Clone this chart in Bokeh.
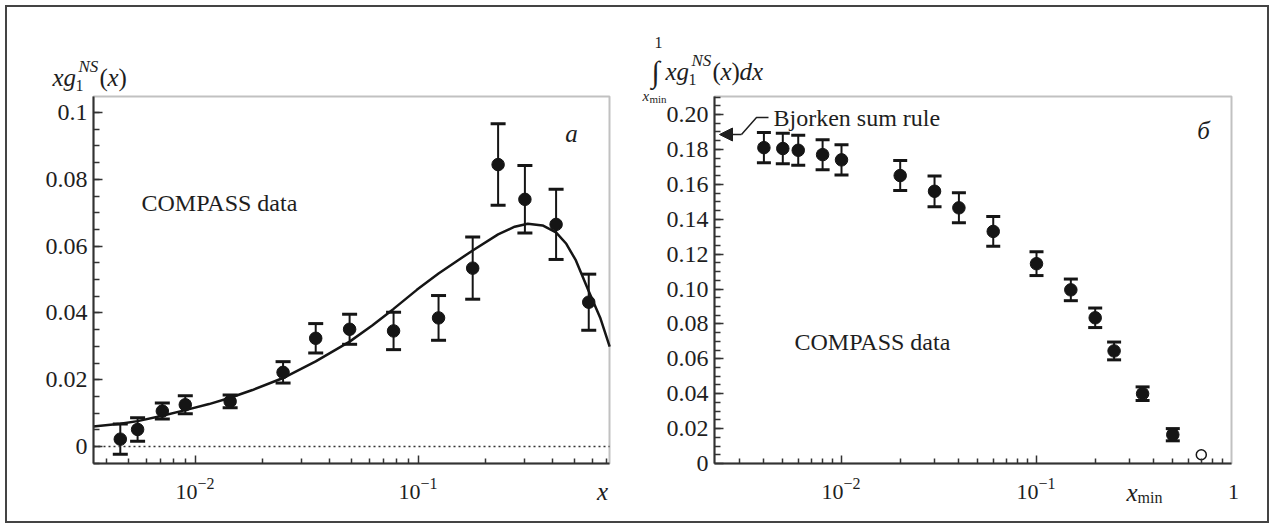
import math
from bokeh.plotting import figure
from bokeh.layouts import row
from bokeh.models import (ColumnDataSource, Whisker, TeeHead, Label, Range1d,
                          FixedTicker, Arrow, NormalHead, BoxAnnotation)
from bokeh.embed import file_html
from bokeh.resources import INLINE

# ---------------- data: panel a ----------------
x_a = [0.0046, 0.0055, 0.0071, 0.0090, 0.0143, 0.0247, 0.0346, 0.0491,
       0.0773, 0.123, 0.175, 0.2275, 0.300, 0.414, 0.58]
y_a = [0.0022, 0.0051, 0.0106, 0.0125, 0.0135, 0.0222, 0.0324, 0.0351,
       0.0346, 0.0385, 0.0534, 0.0844, 0.0740, 0.0665, 0.0432]
err_a = [0.0045, 0.0035, 0.0024, 0.0027, 0.0019, 0.0032, 0.0044, 0.0045,
         0.0056, 0.0067, 0.0093, 0.0122, 0.0101, 0.0105, 0.0084]
curve_x = [0.00348, 0.0046, 0.0055, 0.0071, 0.0090, 0.0115, 0.0143, 0.0180,
           0.0247, 0.0346, 0.0491, 0.0620, 0.0773, 0.0983, 0.123, 0.150,
           0.175, 0.2275, 0.27, 0.309, 0.36, 0.4136, 0.46, 0.508, 0.58,
           0.655, 0.72]
curve_y = [0.0060, 0.0068, 0.0076, 0.0092, 0.0109, 0.0127, 0.0146, 0.0169,
           0.0205, 0.0255, 0.0314, 0.0362, 0.0412, 0.0469, 0.0518, 0.0557,
           0.0587, 0.0635, 0.0658, 0.0667, 0.0662, 0.0641, 0.0607, 0.0557,
           0.0465, 0.0383, 0.0299]
yticks_a = [0, 0.02, 0.04, 0.06, 0.08, 0.1]
ylabels_a = ["0", "0.02", "0.04", "0.06", "0.08", "0.1"]
xticks_a = [0.01, 0.1]
xexp_a = ["\u22122", "\u22121"]

# ---------------- data: panel b ----------------
x_b = [0.004, 0.005, 0.006, 0.008, 0.01, 0.02, 0.03, 0.04, 0.06, 0.1,
       0.15, 0.2, 0.25, 0.35, 0.5]
y_b = [0.181, 0.1805, 0.1795, 0.177, 0.174, 0.165, 0.156, 0.1465, 0.133,
       0.1145, 0.0995, 0.0835, 0.0645, 0.040, 0.0165]
err_b = [0.0087, 0.0087, 0.0086, 0.0086, 0.0086, 0.0086, 0.0088, 0.0086,
         0.0085, 0.0068, 0.0062, 0.0056, 0.0051, 0.0039, 0.0035]
x_open = [0.7]
y_open = [0.005]
yticks_b = [0, 0.02, 0.04, 0.06, 0.08, 0.10, 0.12, 0.14, 0.16, 0.18, 0.20]
ylabels_b = ["0", "0.02", "0.04", "0.06", "0.08", "0.10", "0.12", "0.14",
             "0.16", "0.18", "0.20"]
xticks_b = [0.01, 0.1]
xexp_b = ["\u22122", "\u22121"]

SERIF = "Liberation Serif"
INK = "#151515"
FRAME = "#333333"
TXT = "#1e1e1e"

# page layout (pixels)
OX, OY = 7, 7          # top-left of the figures on the page
H = 514
W1, W2 = 623, 637
BOX_A = (93, 609, 96, 463)     # left, right, top, bottom of plot box a
BOX_B = (714, 1231, 96, 463)   # same for plot box b
BASE_FIX = 6                   # alphabetic-baseline correction (px)


# page-pixel -> data helpers (axis calibration of each panel)
def conv_a(px, py):
    return 10 ** (-2 + (px - 195) / 223.0), (446 - py) / 3340.0


def conv_b(px, py):
    return 10 ** (-2 + (px - 841) / 195.0), (463 - py) / 1745.0


def make_fig(conv, x0, width, box, xt, ymajor, ylabels):
    xr = Range1d(conv(x0, 0)[0], conv(x0 + width, 0)[0])
    yr = Range1d(conv(0, OY + H)[1], conv(0, OY)[1])
    p = figure(width=width, height=H, x_axis_type="log", x_range=xr,
               y_range=yr, output_backend="svg", toolbar_location=None,
               min_border=0, min_border_left=0, min_border_right=0,
               min_border_top=0, min_border_bottom=0)
    p.grid.visible = False
    p.outline_line_color = None
    p.background_fill_color = "white"
    p.border_fill_color = "white"
    bl, bb = conv(box[0], box[3])
    br, bt = conv(box[1], box[2])
    # visible plot box
    p.add_layout(BoxAnnotation(left=bl, right=br, bottom=bb, top=bt,
                               fill_color=None, line_color=FRAME,
                               line_width=2))
    minors_x = [m * 10 ** e for e in (-3, -2, -1, 0) for m in range(2, 10)
                if bl < m * 10 ** e < br * 0.995]
    p.xaxis.ticker = FixedTicker(ticks=xt, minor_ticks=minors_x)
    minors_y = [round(i * 0.005, 4) for i in range(-1, 44)
                if bb < i * 0.005 < bt]
    p.yaxis.ticker = FixedTicker(ticks=ymajor, minor_ticks=minors_y)
    p.yaxis.major_label_overrides = {t: l for t, l in zip(ymajor, ylabels)}
    p.xaxis.fixed_location = bb
    p.xaxis.bounds = (bl, br)
    p.yaxis.fixed_location = bl
    p.yaxis.bounds = (bb, bt)
    for axs in (p.xaxis, p.yaxis):
        axs.axis_line_color = FRAME
        axs.axis_line_width = 2
        axs.major_tick_out = 0
        axs.minor_tick_out = 0
        axs.major_tick_line_color = FRAME
        axs.minor_tick_line_color = FRAME
        axs.major_tick_line_width = 1.5
        axs.minor_tick_line_width = 1.5
        axs.major_label_text_font = SERIF
        axs.major_label_text_font_size = "24px"
        axs.major_label_text_color = TXT
        axs.major_label_standoff = 6
    p.xaxis.major_tick_in = 8
    p.xaxis.minor_tick_in = 5
    p.yaxis.major_tick_in = 9
    p.yaxis.minor_tick_in = 6
    p.xaxis.major_label_text_color = None
    return p


def text(p, conv, px, py, s, size, italic=False, align="left",
         baseline="alphabetic"):
    if baseline == "alphabetic":
        py -= BASE_FIX
    x, y = conv(px, py)
    p.add_layout(Label(x=x, y=y, text=s, text_font=SERIF,
                       text_font_size=f"{size}px",
                       text_font_style="italic" if italic else "normal",
                       text_align=align, text_baseline=baseline,
                       text_color=TXT))


def errbars(p, xs, ys, es, cap):
    src = ColumnDataSource(dict(x=xs, lo=[y - e for y, e in zip(ys, es)],
                                hi=[y + e for y, e in zip(ys, es)]))
    p.add_layout(Whisker(base="x", lower="lo", upper="hi", source=src,
                         dimension="height", line_width=2, line_color=INK,
                         upper_head=TeeHead(size=cap, line_width=3,
                                            line_color=INK),
                         lower_head=TeeHead(size=cap, line_width=3,
                                            line_color=INK)))


# ---------------- panel a ----------------
p1 = make_fig(conv_a, OX, W1, BOX_A, xticks_a, yticks_a, ylabels_a)
zl, _ = conv_a(BOX_A[0], 0)
zr, _ = conv_a(BOX_A[1], 0)
p1.segment(x0=[zl], x1=[zr], y0=[0], y1=[0], line_dash="2 3",
           line_width=1.5, line_color=FRAME)
p1.line(curve_x, curve_y, line_width=2.5, line_color=INK)
errbars(p1, x_a, y_a, err_a, 15)
p1.scatter(x_a, y_a, size=12.5, fill_color=INK, line_color=INK)

for t, e in zip(xticks_a, xexp_a):
    px = 195 + 223 * (math.log10(t) + 2)
    text(p1, conv_a, px + 2, 497, "10", 22, align="right")
    text(p1, conv_a, px + 2, 489, e, 16)
text(p1, conv_a, 602, 497, "x", 25, italic=True, align="center")
text(p1, conv_a, 571, 133, "a", 25, italic=True, align="center",
     baseline="middle")
text(p1, conv_a, 141, 202, "COMPASS data", 24, baseline="middle")
# y label: x g_1^{NS}(x)
text(p1, conv_a, 52, 83, "xg", 25, italic=True)
text(p1, conv_a, 75, 91, "1", 16)
text(p1, conv_a, 78, 72, "NS", 17, italic=True)
text(p1, conv_a, 99, 83, "(", 25)
text(p1, conv_a, 107, 83, "x", 25, italic=True)
text(p1, conv_a, 118, 83, ")", 25)

# ---------------- panel b ----------------
p2 = make_fig(conv_b, OX + W1, W2, BOX_B, xticks_b, yticks_b, ylabels_b)
errbars(p2, x_b, y_b, err_b, 14)
p2.scatter(x_b, y_b, size=12.5, fill_color=INK, line_color=INK)
p2.scatter(x_open, y_open, size=10, fill_color="white", line_color=INK,
           line_width=1.5)

for t, e in zip(xticks_b, xexp_b):
    px = 841 + 195 * (math.log10(t) + 2)
    text(p2, conv_b, px + 2, 497, "10", 22, align="right")
    text(p2, conv_b, px + 2, 489, e, 16)
text(p2, conv_b, 1233, 497, "1", 22, align="center")
text(p2, conv_b, 1126, 498, "x", 25, italic=True)
text(p2, conv_b, 1137, 503, "min", 16)
text(p2, conv_b, 1203, 130, "\u0431", 25, italic=True, align="center",
     baseline="middle")
text(p2, conv_b, 794, 341, "COMPASS data", 24, baseline="middle")
text(p2, conv_b, 773, 117, "Bjorken sum rule", 24, baseline="middle")

# Bjorken arrow
tip = conv_b(719, 134)
elb = conv_b(741, 134)
up = conv_b(756, 117)
end = conv_b(768, 117)
p2.add_layout(Arrow(end=NormalHead(size=13, fill_color=TXT,
                                   line_color=TXT, line_width=1),
                    x_start=elb[0], y_start=elb[1], x_end=tip[0],
                    y_end=tip[1], line_width=1.5, line_color=TXT))
p2.line([elb[0], up[0], end[0]], [elb[1], up[1], end[1]], line_width=1.5,
        line_color=TXT)

# y label: integral_{x_min}^{1} x g_1^{NS}(x) dx
text(p2, conv_b, 658, 48, "1", 16, align="center")
text(p2, conv_b, 655, 71, "\u222b", 30, align="center", baseline="middle")
text(p2, conv_b, 642, 101, "x", 15, italic=True)
text(p2, conv_b, 649, 104, "min", 11)
text(p2, conv_b, 665, 77, "xg", 25, italic=True)
text(p2, conv_b, 688, 85, "1", 16)
text(p2, conv_b, 691, 66, "NS", 17, italic=True)
text(p2, conv_b, 712, 77, "(", 25)
text(p2, conv_b, 720, 77, "x", 25, italic=True)
text(p2, conv_b, 731, 77, ")", 25)
text(p2, conv_b, 739, 77, "dx", 25, italic=True)

layout = row(p1, p2, styles={"margin": "5px 0 0 5px",
                             "border": "2px solid #444444"})

open("out.html", "w").write(file_html(layout, INLINE))
